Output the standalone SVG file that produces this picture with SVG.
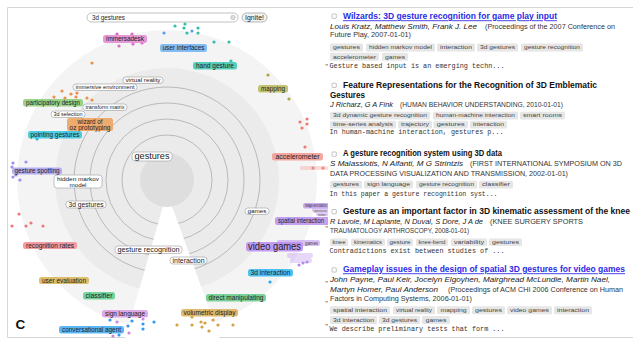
<svg xmlns="http://www.w3.org/2000/svg" width="633" height="339" viewBox="0 0 633 339">
<defs>
<clipPath id="vizclip"><rect x="0" y="0" width="328" height="339"/></clipPath>
<style>
text{font-family:"Liberation Sans",Arial,sans-serif;}
.lb{font-size:6.5px;fill:#222;text-anchor:middle;}
.lbs{font-size:6px;fill:#222;text-anchor:middle;}
.cr{stroke:none;opacity:.88;}
.gr{fill:#fff;stroke:#9a9a9a;stroke-width:.6;}
.ring{fill:none;stroke:#a4a4a4;stroke-width:.7;}
.title{font-size:8.6px;font-weight:bold;fill:#111;}
.link{fill:#2b2be6;text-decoration:underline;}
.auth{font-size:7.6px;font-style:italic;fill:#222;}
.ven{font-size:6.6px;fill:#333;}
.tag{fill:#e6e6e6;}
.tagt{font-size:5.8px;fill:#444;text-anchor:middle;}
.mono{font-family:"Liberation Mono","Courier New",monospace;font-size:6.6px;fill:#333;}
.cb{fill:#fff;stroke:#888;stroke-width:.5;}
.faint{opacity:.35;}
</style>
</defs>
<rect x="0" y="0" width="633" height="339" fill="#fff"/>
<path d="M640,7.5 H7.5 V337.5 H640" fill="none" stroke="#d6d6d6" stroke-width="1"/>

<g id="viz" clip-path="url(#vizclip)">
 <g id="background">
  <circle cx="167" cy="180" r="150" fill="#f4f4f4"/>
  <circle cx="167" cy="180" r="112" fill="#ebebeb"/>
  <circle class="ring" cx="167" cy="180" r="45"/>
  <circle class="ring" cx="167" cy="180" r="61"/>
  <circle class="ring" cx="167" cy="180" r="77"/>
  <circle class="ring" cx="167" cy="180" r="93"/>
  <polygon points="167,192 125,339 220,339" fill="#fff"/>
  <circle cx="167" cy="180" r="27" fill="#dedede"/>
 </g>
 <g id="dots">
  <g fill="#d86cc4"><circle cx="117" cy="34" r="1.6"/><circle cx="132" cy="34" r="1.6"/><circle cx="119" cy="46" r="1.6"/><circle cx="133" cy="44" r="1.6"/><circle cx="142" cy="43" r="1.6"/></g>
  <g fill="#5a9ff0"><circle cx="164" cy="33" r="1.6"/><circle cx="192" cy="31" r="1.6"/></g>
  <g fill="#2fbfab"><circle cx="175" cy="26" r="1.6"/><circle cx="185" cy="24" r="1.6"/><circle cx="184" cy="28" r="1.6"/><circle cx="187" cy="33" r="1.6"/><circle cx="198" cy="28" r="1.6"/><circle cx="198" cy="33" r="1.6"/><circle cx="214" cy="42" r="1.6"/><circle cx="229" cy="42" r="1.6"/><circle cx="231" cy="61" r="1.6"/></g>
  <g fill="#aaa844"><circle cx="268" cy="75" r="1.6"/><circle cx="289" cy="99" r="1.6"/></g>
  <g fill="#e8924a"><circle cx="92" cy="63" r="1.6"/><circle cx="62" cy="91" r="1.6"/><circle cx="54" cy="97" r="1.6"/><circle cx="65" cy="98" r="1.6"/><circle cx="71" cy="94" r="1.6"/><circle cx="77" cy="93" r="1.6"/><circle cx="79" cy="89" r="1.6"/><circle cx="76" cy="97" r="1.6"/><circle cx="87" cy="98" r="1.6"/><circle cx="92" cy="100" r="1.6"/></g>
  <g fill="#ee7a70"><circle cx="300" cy="122" r="1.6"/><circle cx="307" cy="119" r="1.6"/><circle cx="307" cy="124" r="1.6"/><circle cx="302" cy="128" r="1.6"/><circle cx="305" cy="147" r="1.6"/><circle cx="313" cy="168" r="1.6"/><circle cx="323" cy="168" r="1.6"/></g>
  <g fill="#22b8d8"><circle cx="37" cy="139" r="1.6"/></g>
  <g fill="#9a90f0"><circle cx="13" cy="163" r="1.6"/><circle cx="12" cy="167" r="1.6"/><circle cx="26" cy="162" r="1.6"/><circle cx="13" cy="177" r="1.6"/><circle cx="16" cy="175" r="1.6"/><circle cx="20" cy="180" r="1.6"/></g>
  <g fill="#ef7880"><circle cx="19" cy="214" r="1.6"/><circle cx="12" cy="226" r="1.6"/><circle cx="26" cy="226" r="1.6"/><circle cx="31" cy="223" r="1.6"/><circle cx="43" cy="226" r="1.6"/></g>
  <g fill="#3399ee"><circle cx="110" cy="320" r="1.6"/><circle cx="128" cy="326" r="1.6"/><circle cx="132" cy="321" r="1.6"/><circle cx="143" cy="329" r="1.6"/><circle cx="154" cy="322" r="1.6"/><circle cx="119" cy="335" r="1.6"/><circle cx="143" cy="324" r="1.6"/></g>
  <g fill="#cc88dd"><circle cx="117" cy="322" r="1.6"/><circle cx="129" cy="333" r="1.6"/><circle cx="113" cy="336" r="1.6"/><circle cx="143" cy="319" r="1.6"/></g>
  <g fill="#2aa8ee"><circle cx="270" cy="282" r="1.6"/></g>
  <g fill="#d4a040"><circle cx="177" cy="325" r="1.6"/><circle cx="192" cy="317" r="1.6"/><circle cx="192" cy="325" r="1.6"/><circle cx="201" cy="322" r="1.6"/><circle cx="202" cy="327" r="1.6"/><circle cx="205" cy="323" r="1.6"/><circle cx="209" cy="331" r="1.6"/><circle cx="213" cy="320" r="1.6"/><circle cx="218" cy="325" r="1.6"/><circle cx="233" cy="325" r="1.6"/></g>
  <g fill="#b48ae8"><circle cx="299" cy="265" r="1.6"/><circle cx="303" cy="263" r="1.6"/><circle cx="307" cy="262" r="1.6"/></g>
  <g fill="#c9a26a"><rect x="325.5" y="64" width="3" height="1.5"/><rect x="325.5" y="226" width="3" height="1.5"/><rect x="325.5" y="281" width="3" height="1.5"/><rect x="325.5" y="301" width="3" height="1.5"/><rect x="325.5" y="324" width="3" height="1.5"/></g>
 </g>

 <g id="faint-labels">
  <rect x="300" y="166" width="28" height="4" rx="1.5" fill="#f39a92" class="faint"/>
  <rect x="303" y="203" width="30" height="5.5" rx="2" fill="#bc94ee" opacity=".75"/>
  <text x="305" y="207.3" font-size="4.6" fill="#333" textLength="22" lengthAdjust="spacingAndGlyphs">image annotation</text>
  <rect x="312" y="207.8" width="20" height="4.5" rx="2" fill="#bc94ee" opacity=".45"/>
  <text x="314" y="211.5" font-size="4.2" fill="#555" textLength="13" lengthAdjust="spacingAndGlyphs">gesture</text>
  <rect x="316" y="211.8" width="15" height="4.5" rx="2" fill="#bc94ee" opacity=".45"/>
  <text x="318" y="215.5" font-size="4.2" fill="#555" textLength="8" lengthAdjust="spacingAndGlyphs">inter</text>
  <rect x="277" y="240" width="43" height="6" rx="2" fill="#b98ff0" opacity=".55"/>
  <text x="305" y="245" font-size="5" fill="#444" textLength="13" lengthAdjust="spacingAndGlyphs">games</text>
  <rect x="287" y="253" width="26" height="5" rx="2" fill="#b98ff0" class="faint"/>
  <rect x="290" y="258" width="22" height="5" rx="2" fill="#b98ff0" class="faint"/>
 </g>

 <g id="node-immersadesk"><rect class="cr" x="103" y="35" width="44" height="8" rx="2.5" fill="#e48ad0"/><text class="lb" x="125" y="41.3" textLength="38" lengthAdjust="spacingAndGlyphs">immersadesk</text></g>
 <g id="node-user-interfaces"><rect class="cr" x="160" y="44" width="47" height="8" rx="2.5" fill="#74b3f3"/><text class="lb" x="183.5" y="50.3" textLength="42" lengthAdjust="spacingAndGlyphs">user interfaces</text></g>
 <g id="node-hand-gesture"><rect class="cr" x="193" y="62" width="44" height="7.5" rx="2.5" fill="#40c7b3"/><text class="lb" x="215" y="68" textLength="38" lengthAdjust="spacingAndGlyphs">hand gesture</text></g>
 <g id="node-mapping"><rect class="cr" x="258" y="85" width="30" height="7.5" rx="2.5" fill="#bcbb5e"/><text class="lb" x="273" y="91" textLength="24" lengthAdjust="spacingAndGlyphs">mapping</text></g>
 <g id="node-accelerometer"><rect class="cr" x="272" y="153" width="51" height="7.5" rx="2.5" fill="#f39a92"/><text class="lb" x="297.5" y="159" textLength="44" lengthAdjust="spacingAndGlyphs">accelerometer</text></g>
 <g id="node-participatory-design"><rect class="cr" x="23" y="99" width="60" height="7.5" rx="2.5" fill="#8dce77"/><text class="lb" x="53" y="105" textLength="54" lengthAdjust="spacingAndGlyphs">participatory design</text></g>
 <g id="node-wizard-of-oz"><rect class="cr" x="67" y="118" width="46" height="13" rx="2.5" fill="#eea25f"/><text class="lb" x="90" y="123.8" textLength="25" lengthAdjust="spacingAndGlyphs">wizard of</text><text class="lb" x="90" y="130" textLength="41" lengthAdjust="spacingAndGlyphs">oz prototyping</text></g>
 <g id="node-pointing-gestures"><rect class="cr" x="28" y="131" width="54" height="7.5" rx="2.5" fill="#34c6e0"/><text class="lb" x="55" y="137" textLength="49" lengthAdjust="spacingAndGlyphs">pointing gestures</text></g>
 <g id="node-gesture-spotting"><rect class="cr" x="12" y="167.5" width="50" height="7" rx="2.5" fill="#aaa4f4"/><text class="lb" x="37" y="173.3" textLength="45" lengthAdjust="spacingAndGlyphs">gesture spotting</text></g>
 <g id="node-recognition-rates"><rect class="cr" x="23" y="242" width="54" height="7" rx="2.5" fill="#f38d97"/><text class="lb" x="50" y="247.6" textLength="48" lengthAdjust="spacingAndGlyphs">recognition rates</text></g>
 <g id="node-user-evaluation"><rect class="cr" x="39" y="277" width="50" height="7" rx="2.5" fill="#d8b558"/><text class="lb" x="64" y="282.6" textLength="44" lengthAdjust="spacingAndGlyphs">user evaluation</text></g>
 <g id="node-classifier"><rect class="cr" x="83" y="292" width="32" height="7.5" rx="2.5" fill="#62cf8e"/><text class="lb" x="99" y="298" textLength="27" lengthAdjust="spacingAndGlyphs">classifier</text></g>
 <g id="node-sign-language"><rect class="cr" x="102" y="310" width="46" height="7.5" rx="2.5" fill="#d99fe5"/><text class="lb" x="125" y="316" textLength="40" lengthAdjust="spacingAndGlyphs">sign language</text></g>
 <g id="node-conversational-agent"><rect class="cr" x="59" y="326" width="65" height="7.5" rx="2.5" fill="#45acf2"/><text class="lb" x="91.5" y="332" textLength="59" lengthAdjust="spacingAndGlyphs">conversational agent</text></g>
 <g id="node-spatial-interaction"><rect class="cr" x="275" y="217" width="60" height="8" rx="2.5" fill="#bc94ee"/><text x="278" y="223.4" font-size="7.4" fill="#222" textLength="46" lengthAdjust="spacingAndGlyphs">spatial interaction</text></g>
 <g id="node-video-games"><rect class="cr" x="246" y="242" width="57" height="9.5" rx="3" fill="#b98ff0"/><text x="274.5" y="250.2" font-size="10" fill="#222" text-anchor="middle" textLength="53" lengthAdjust="spacingAndGlyphs">video games</text></g>
 <g id="node-3d-interaction"><rect class="cr" x="248" y="269" width="45" height="7.5" rx="2.5" fill="#36b7ef"/><text class="lb" x="270.5" y="275" textLength="40" lengthAdjust="spacingAndGlyphs">3d interaction</text></g>
 <g id="node-direct-manipulating"><rect class="cr" x="206" y="294" width="60" height="7.5" rx="2.5" fill="#67cd8b"/><text class="lb" x="236" y="300" textLength="55" lengthAdjust="spacingAndGlyphs">direct manipulating</text></g>
 <g id="node-volumetric-display"><rect class="cr" x="181" y="309" width="57" height="7.5" rx="2.5" fill="#dcb15a"/><text class="lb" x="209.5" y="315" textLength="52" lengthAdjust="spacingAndGlyphs">volumetric display</text></g>

 <g id="node-virtual-reality"><rect class="gr" x="123" y="77" width="40" height="6.5" rx="3"/><text class="lbs" x="143" y="82.3" textLength="35" lengthAdjust="spacingAndGlyphs">virtual reality</text></g>
 <g id="node-immersive-environment"><rect class="gr" x="73" y="84" width="64" height="6.5" rx="3"/><text class="lbs" x="105" y="89.3" textLength="59" lengthAdjust="spacingAndGlyphs">immersive environment</text></g>
 <g id="node-transform-matrix"><rect class="gr" x="83" y="104" width="44" height="6.5" rx="3"/><text class="lbs" x="105" y="109.3" textLength="39" lengthAdjust="spacingAndGlyphs">transform matrix</text></g>
 <g id="node-3d-selection"><rect class="gr" x="51" y="111" width="34" height="6.5" rx="3"/><text class="lbs" x="68" y="116.3" textLength="29" lengthAdjust="spacingAndGlyphs">3d selection</text></g>
 <g id="node-gestures"><rect class="gr" x="132" y="152" width="40" height="9" rx="3.5"/><text x="152" y="159.4" font-size="9" fill="#222" text-anchor="middle" textLength="35" lengthAdjust="spacingAndGlyphs">gestures</text></g>
 <g id="node-hidden-markov-model"><rect class="gr" x="54" y="175" width="48" height="13" rx="3"/><text class="lbs" x="78" y="180.8" textLength="42" lengthAdjust="spacingAndGlyphs">hidden markov</text><text class="lbs" x="78" y="186.8" textLength="17" lengthAdjust="spacingAndGlyphs">model</text></g>
 <g id="node-3d-gestures"><rect class="gr" x="66" y="201" width="40" height="7" rx="3"/><text class="lb" x="86" y="206.6" textLength="35" lengthAdjust="spacingAndGlyphs">3d gestures</text></g>
 <g id="node-gesture-recognition"><rect class="gr" x="115" y="246" width="67" height="7.5" rx="3"/><text x="148.5" y="252.1" font-size="7" fill="#222" text-anchor="middle" textLength="62" lengthAdjust="spacingAndGlyphs">gesture recognition</text></g>
 <g id="node-games"><rect class="gr" x="245" y="208" width="24" height="6.5" rx="3"/><text class="lbs" x="257" y="213.3" textLength="19" lengthAdjust="spacingAndGlyphs">games</text></g>
 <g id="node-interaction"><rect class="gr" x="170" y="257" width="37" height="7" rx="3"/><text class="lb" x="188.5" y="262.6" textLength="32" lengthAdjust="spacingAndGlyphs">interaction</text></g>
</g>

<text x="15.5" y="328.5" font-size="13.5" font-weight="bold" fill="#111">C</text>

<g id="search">
 <rect x="87" y="13" width="151" height="9" rx="4.5" fill="#fff" stroke="#999" stroke-width=".6"/>
 <text x="92" y="19.8" font-size="6.5" fill="#222" textLength="33" lengthAdjust="spacingAndGlyphs">3d gestures</text>
 <circle cx="233" cy="17.5" r="2.3" fill="#ddd" stroke="#aaa" stroke-width=".5"/>
 <rect x="242" y="13" width="25" height="9" rx="4.5" fill="#f2f2f2" stroke="#888" stroke-width=".6"/>
 <text x="254.5" y="19.8" font-size="6.5" fill="#222" text-anchor="middle" textLength="19" lengthAdjust="spacingAndGlyphs">Ignite!</text>
</g>

<g id="results">
 <g id="result-1">
  <rect class="cb" x="332" y="14" width="4.3" height="4.3" rx=".6"/>
  <text class="title link" x="343" y="19.3" textLength="214" lengthAdjust="spacingAndGlyphs">Wilzards: 3D gesture recognition for game play input</text>
  <text class="auth" x="330" y="29.3" textLength="147" lengthAdjust="spacingAndGlyphs">Louis Kratz, Matthew Smith, Frank J. Lee</text>
  <text class="ven" x="485" y="29.3" textLength="130" lengthAdjust="spacingAndGlyphs">(Proceedings of the 2007 Conference on</text>
  <text class="ven" x="330" y="37" textLength="81" lengthAdjust="spacingAndGlyphs">Future Play, 2007-01-01)</text>
  <rect class="tag" x="330" y="43.5" width="33" height="8" rx="1.5"/><text class="tagt" x="346.5" y="49.4" textLength="27" lengthAdjust="spacingAndGlyphs">gestures</text>
  <rect class="tag" x="366" y="43.5" width="69" height="8" rx="1.5"/><text class="tagt" x="400.5" y="49.4" textLength="63" lengthAdjust="spacingAndGlyphs">hidden markov model</text>
  <rect class="tag" x="437" y="43.5" width="38" height="8" rx="1.5"/><text class="tagt" x="456" y="49.4" textLength="32" lengthAdjust="spacingAndGlyphs">interaction</text>
  <rect class="tag" x="477" y="43.5" width="41" height="8" rx="1.5"/><text class="tagt" x="497.5" y="49.4" textLength="35" lengthAdjust="spacingAndGlyphs">3d gestures</text>
  <rect class="tag" x="521" y="43.5" width="62" height="8" rx="1.5"/><text class="tagt" x="552" y="49.4" textLength="56" lengthAdjust="spacingAndGlyphs">gesture recognition</text>
  <rect class="tag" x="330" y="52.8" width="49" height="8" rx="1.5"/><text class="tagt" x="354.5" y="58.7" textLength="43" lengthAdjust="spacingAndGlyphs">accelerometer</text>
  <rect class="tag" x="382" y="52.8" width="26" height="8" rx="1.5"/><text class="tagt" x="395" y="58.7" textLength="20" lengthAdjust="spacingAndGlyphs">games</text>
  <text class="mono" x="329.5" y="68" textLength="175" lengthAdjust="spacingAndGlyphs">Gesture based input is an emerging techn...</text>
 </g>
 <g id="result-2">
  <rect class="cb" x="332" y="83.2" width="4.3" height="4.3" rx=".6"/>
  <text class="title" x="343" y="87.5" textLength="254" lengthAdjust="spacingAndGlyphs">Feature Representations for the Recognition of 3D Emblematic</text>
  <text class="title" x="330" y="97.5" textLength="35" lengthAdjust="spacingAndGlyphs">Gestures</text>
  <text class="auth" x="330" y="106.7" textLength="63" lengthAdjust="spacingAndGlyphs">J Richarz, G A Fink</text>
  <text class="ven" x="400" y="106.7" textLength="163" lengthAdjust="spacingAndGlyphs">(HUMAN BEHAVIOR UNDERSTANDING, 2010-01-01)</text>
  <rect class="tag" x="330" y="111.8" width="100" height="7.6" rx="1.5"/><text class="tagt" x="380" y="117.4" textLength="94" lengthAdjust="spacingAndGlyphs">3d dynamic gesture recognition</text>
  <rect class="tag" x="433" y="111.8" width="85" height="7.6" rx="1.5"/><text class="tagt" x="475.5" y="117.4" textLength="79" lengthAdjust="spacingAndGlyphs">human-machine interaction</text>
  <rect class="tag" x="520" y="111.8" width="45" height="7.6" rx="1.5"/><text class="tagt" x="542.5" y="117.4" textLength="39" lengthAdjust="spacingAndGlyphs">smart rooms</text>
  <rect class="tag" x="330" y="120.8" width="66" height="7.6" rx="1.5"/><text class="tagt" x="363" y="126.4" textLength="60" lengthAdjust="spacingAndGlyphs">time-series analysis</text>
  <rect class="tag" x="398" y="120.8" width="34" height="7.6" rx="1.5"/><text class="tagt" x="415" y="126.4" textLength="28" lengthAdjust="spacingAndGlyphs">trajectory</text>
  <rect class="tag" x="433.5" y="120.8" width="34.5" height="7.6" rx="1.5"/><text class="tagt" x="450.7" y="126.4" textLength="28" lengthAdjust="spacingAndGlyphs">gestures</text>
  <rect class="tag" x="470" y="120.8" width="37" height="7.6" rx="1.5"/><text class="tagt" x="488.5" y="126.4" textLength="31" lengthAdjust="spacingAndGlyphs">interaction</text>
  <text class="mono" x="329.5" y="134" textLength="174" lengthAdjust="spacingAndGlyphs">In human-machine interaction, gestures p...</text>
 </g>
 <g id="result-3">
  <rect class="cb" x="332" y="152" width="4.3" height="4.3" rx=".6"/>
  <text class="title" x="343" y="156.3" textLength="159" lengthAdjust="spacingAndGlyphs">A gesture recognition system using 3D data</text>
  <text class="auth" x="330" y="166" textLength="133" lengthAdjust="spacingAndGlyphs">S Malassiotis, N Aifanti, M G Strintzis</text>
  <text class="ven" x="470" y="166" textLength="152" lengthAdjust="spacingAndGlyphs">(FIRST INTERNATIONAL SYMPOSIUM ON 3D</text>
  <text class="ven" x="330" y="176" textLength="238" lengthAdjust="spacingAndGlyphs">DATA PROCESSING VISUALIZATION AND TRANSMISSION, 2002-01-01)</text>
  <rect class="tag" x="330" y="180.8" width="32" height="7.6" rx="1.5"/><text class="tagt" x="346" y="186.4" textLength="26" lengthAdjust="spacingAndGlyphs">gestures</text>
  <rect class="tag" x="364" y="180.8" width="49" height="7.6" rx="1.5"/><text class="tagt" x="388.5" y="186.4" textLength="43" lengthAdjust="spacingAndGlyphs">sign language</text>
  <rect class="tag" x="416" y="180.8" width="61" height="7.6" rx="1.5"/><text class="tagt" x="446.5" y="186.4" textLength="55" lengthAdjust="spacingAndGlyphs">gesture recognition</text>
  <rect class="tag" x="479" y="180.8" width="34" height="7.6" rx="1.5"/><text class="tagt" x="496" y="186.4" textLength="28" lengthAdjust="spacingAndGlyphs">classifier</text>
  <text class="mono" x="329.5" y="196" textLength="168" lengthAdjust="spacingAndGlyphs">In this paper a gesture recognition syst...</text>
 </g>
 <g id="result-4">
  <rect class="cb" x="332" y="209.5" width="4.3" height="4.3" rx=".6"/>
  <text class="title" x="343" y="214" textLength="287" lengthAdjust="spacingAndGlyphs">Gesture as an important factor in 3D kinematic assessment of the knee</text>
  <text class="auth" x="330" y="224" textLength="153" lengthAdjust="spacingAndGlyphs">R Lavoie, M Laplante, N Duval, S Dore, J A de</text>
  <text class="ven" x="490" y="224" textLength="93" lengthAdjust="spacingAndGlyphs">(KNEE SURGERY SPORTS</text>
  <text class="ven" x="330" y="233.3" textLength="139" lengthAdjust="spacingAndGlyphs">TRAUMATOLOGY ARTHROSCOPY, 2008-01-01)</text>
  <rect class="tag" x="330" y="238.5" width="18" height="7.6" rx="1.5"/><text class="tagt" x="339" y="244.1" textLength="13" lengthAdjust="spacingAndGlyphs">knee</text>
  <rect class="tag" x="351" y="238.5" width="34" height="7.6" rx="1.5"/><text class="tagt" x="368" y="244.1" textLength="28" lengthAdjust="spacingAndGlyphs">kinematics</text>
  <rect class="tag" x="387" y="238.5" width="26" height="7.6" rx="1.5"/><text class="tagt" x="400" y="244.1" textLength="21" lengthAdjust="spacingAndGlyphs">gesture</text>
  <rect class="tag" x="416" y="238.5" width="32" height="7.6" rx="1.5"/><text class="tagt" x="432" y="244.1" textLength="27" lengthAdjust="spacingAndGlyphs">knee-bend</text>
  <rect class="tag" x="451" y="238.5" width="36" height="7.6" rx="1.5"/><text class="tagt" x="469" y="244.1" textLength="30" lengthAdjust="spacingAndGlyphs">variability</text>
  <rect class="tag" x="489" y="238.5" width="33" height="7.6" rx="1.5"/><text class="tagt" x="505.5" y="244.1" textLength="27" lengthAdjust="spacingAndGlyphs">gestures</text>
  <text class="mono" x="329.5" y="253.3" textLength="175" lengthAdjust="spacingAndGlyphs">Contradictions exist between studies of ...</text>
 </g>
 <g id="result-5">
  <rect class="cb" x="332" y="267.8" width="4.3" height="4.3" rx=".6"/>
  <text class="title link" x="343" y="272.3" textLength="282" lengthAdjust="spacingAndGlyphs">Gameplay issues in the design of spatial 3D gestures for video games</text>
  <text class="auth" x="330" y="282.3" textLength="280" lengthAdjust="spacingAndGlyphs">John Payne, Paul Keir, Jocelyn Elgoyhen, Mairghread McLundie, Martin Nael,</text>
  <text class="auth" x="330" y="291.7" textLength="108" lengthAdjust="spacingAndGlyphs">Martyn Homer, Paul Anderson</text>
  <text class="ven" x="448" y="291.7" textLength="175" lengthAdjust="spacingAndGlyphs">(Proceedings of ACM CHI 2006 Conference on Human</text>
  <text class="ven" x="330" y="300.7" textLength="142" lengthAdjust="spacingAndGlyphs">Factors in Computing Systems, 2006-01-01)</text>
  <rect class="tag" x="330" y="306.2" width="60" height="8" rx="1.5"/><text class="tagt" x="360" y="312.1" textLength="54" lengthAdjust="spacingAndGlyphs">spatial interaction</text>
  <rect class="tag" x="393" y="306.2" width="42" height="8" rx="1.5"/><text class="tagt" x="414" y="312.1" textLength="36" lengthAdjust="spacingAndGlyphs">virtual reality</text>
  <rect class="tag" x="437" y="306.2" width="33" height="8" rx="1.5"/><text class="tagt" x="453.5" y="312.1" textLength="26" lengthAdjust="spacingAndGlyphs">mapping</text>
  <rect class="tag" x="472" y="306.2" width="33" height="8" rx="1.5"/><text class="tagt" x="488.5" y="312.1" textLength="27" lengthAdjust="spacingAndGlyphs">gestures</text>
  <rect class="tag" x="507" y="306.2" width="45" height="8" rx="1.5"/><text class="tagt" x="529.5" y="312.1" textLength="39" lengthAdjust="spacingAndGlyphs">video games</text>
  <rect class="tag" x="554" y="306.2" width="38" height="8" rx="1.5"/><text class="tagt" x="573" y="312.1" textLength="32" lengthAdjust="spacingAndGlyphs">interaction</text>
  <rect class="tag" x="330" y="316" width="47" height="8" rx="1.5"/><text class="tagt" x="353.5" y="321.9" textLength="41" lengthAdjust="spacingAndGlyphs">3d interaction</text>
  <rect class="tag" x="379" y="316" width="41" height="8" rx="1.5"/><text class="tagt" x="399.5" y="321.9" textLength="35" lengthAdjust="spacingAndGlyphs">3d gestures</text>
  <rect class="tag" x="422" y="316" width="28" height="8" rx="1.5"/><text class="tagt" x="436" y="321.9" textLength="21" lengthAdjust="spacingAndGlyphs">games</text>
  <text class="mono" x="329.5" y="331" textLength="175" lengthAdjust="spacingAndGlyphs">We describe preliminary tests that form ...</text>
 </g>
</g>
</svg>
